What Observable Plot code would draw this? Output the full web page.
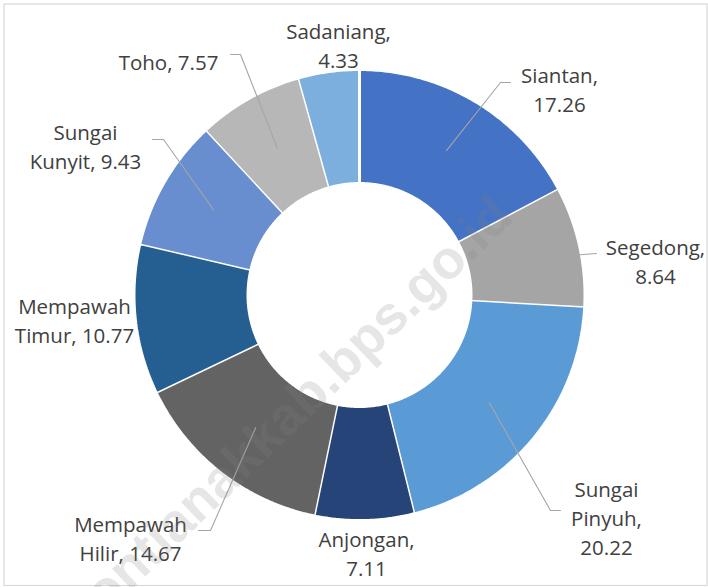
<!DOCTYPE html>
<html>
<head>
<meta charset="utf-8">
<script src="https://cdn.jsdelivr.net/npm/d3@7"></script>
<script src="https://cdn.jsdelivr.net/npm/@observablehq/plot@0.6"></script>
<style>
  html, body { margin: 0; padding: 0; background: #ffffff; }
  #chart svg { display: block; }
</style>
</head>
<body>
<div id="chart"></div>
<script>
// ---- Data ----
const districts = ["Siantan", "Segedong", "Sungai Pinyuh", "Anjongan", "Mempawah Hilir", "Mempawah Timur", "Sungai Kunyit", "Toho", "Sadaniang"];
const shares = [17.26, 8.64, 20.22, 7.11, 14.67, 10.77, 9.43, 7.57, 4.33];
const sliceColors = ["#4472C4", "#A5A5A5", "#5B9BD5", "#264478", "#636363", "#255E91", "#698ED0", "#B7B7B7", "#7CAFDD"];
const labelTexts = ["Siantan,\n17.26", "Segedong,\n8.64", "Sungai\nPinyuh,\n20.22", "Anjongan,\n7.11", "Mempawah\nHilir, 14.67", "Mempawah\nTimur, 10.77", "Sungai\nKunyit, 9.43", "Toho, 7.57", "Sadaniang,\n4.33"];
const watermark = "pontianakkab.bps.go.id";

// ---- Layout (pixel positions, not data) ----
const W = 708, H = 587;
const cx = 359, cy = 294.5, rOuter = 225.5, rInner = 111.5;
const labelFont = 20.5;
const labelX = [559, 655, 606, 366, 130, 74, 85, 168, 338];
const labelBaseline = [76, 248, 490, 540, 525, 307, 133, 63, 32];
// leader line elbow and end, null for none
const leaderElbow = [[500, 82], null, [550, 510], null, [210, 530], null, [163, 139], [240, 54], null];
const leaderEnd   = [[510, 82], [596, 253], [560, 510], null, [198, 530], null, [152, 139], [230, 54], null];

// ---- Build geometry through d3.pie ----
const pieData = districts.map((name, i) => ({name, value: shares[i], color: sliceColors[i]}));
const arcs = d3.pie().sort(null).value(d => d.value)(pieData);
const pt = (r, a) => [cx + r * Math.sin(a), cy - r * Math.cos(a)];

const slicePts = [];
arcs.forEach(a => {
  const n = Math.max(8, Math.ceil((a.endAngle - a.startAngle) * 80));
  for (let k = 0; k <= n; k++) {
    const t = a.startAngle + (a.endAngle - a.startAngle) * k / n;
    const [x, y] = pt(rOuter, t);
    slicePts.push({name: a.data.name, color: a.data.color, x, y});
  }
  for (let k = n; k >= 0; k--) {
    const t = a.startAngle + (a.endAngle - a.startAngle) * k / n;
    const [x, y] = pt(rInner, t);
    slicePts.push({name: a.data.name, color: a.data.color, x, y});
  }
});

const leaderPts = [];
arcs.forEach((a, i) => {
  if (!leaderEnd[i]) return;
  const mid = (a.startAngle + a.endAngle) / 2;
  const [x0, y0] = pt((rOuter + rInner) / 2, mid);
  leaderPts.push({name: a.data.name, x: x0, y: y0});
  if (leaderElbow[i]) leaderPts.push({name: a.data.name, x: leaderElbow[i][0], y: leaderElbow[i][1]});
  leaderPts.push({name: a.data.name, x: leaderEnd[i][0], y: leaderEnd[i][1]});
});

const labels = districts.map((name, i) => ({name, text: labelTexts[i], x: labelX[i], y: labelBaseline[i] - 0.71 * labelFont}));

const chart = Plot.plot({
  width: W,
  height: H,
  margin: 0,
  x: {domain: [0, W], range: [0, W], axis: null},
  y: {domain: [0, H], range: [0, H], axis: null},
  color: {type: "identity"},
  style: {background: "#ffffff"},
  marks: [
    Plot.frame({stroke: "#d9d9d9", strokeWidth: 1.2, insetLeft: 3.5, insetTop: 3.5, insetRight: 1.5, insetBottom: 2}),
    Plot.line(slicePts, {x: "x", y: "y", z: "name", fill: "color", stroke: "#ffffff", strokeWidth: 3, strokeLinejoin: "miter", curve: "linear"}),
    Plot.line(leaderPts, {x: "x", y: "y", z: "name", stroke: "#a6a6a6", strokeWidth: 1.1, curve: "linear"}),
    Plot.text(labels, {x: "x", y: "y", text: "text", lineAnchor: "top", textAnchor: "middle", lineHeight: 29 / labelFont, fontSize: labelFont, fill: "#404040", fontFamily: "'Open Sans', Lato, sans-serif"}),
    Plot.text([watermark], {x: [503], y: [206], text: d => d, textAnchor: "end", rotate: -44, fontSize: 54, fontWeight: "bold", fill: "#808080", fillOpacity: 0.2, fontFamily: "'Liberation Sans', Arial, sans-serif"})
  ]
});
document.getElementById("chart").appendChild(chart);
</script>
</body>
</html>
